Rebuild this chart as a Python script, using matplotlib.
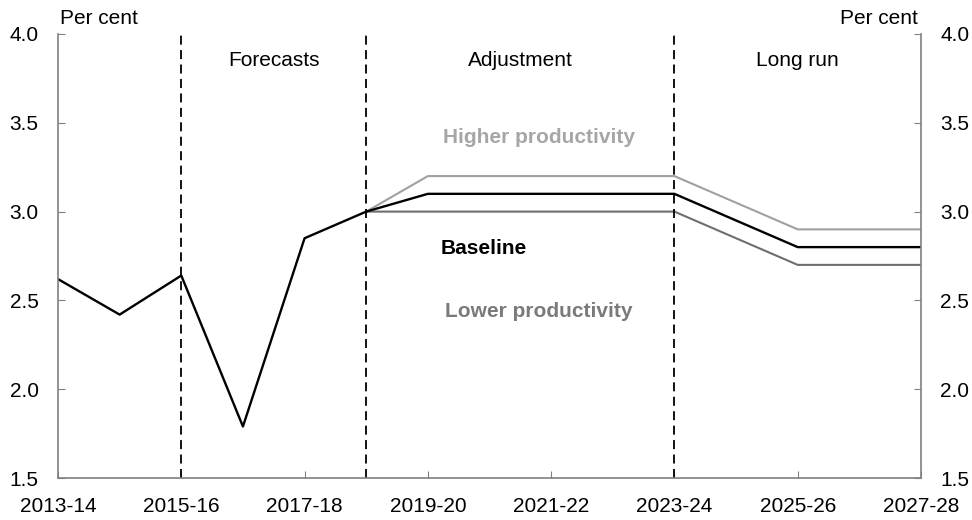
import numpy as np
import matplotlib.pyplot as plt

plt.rcParams['font.family'] = ['Liberation Sans', 'DejaVu Sans']

years = ['2013-14', '2014-15', '2015-16', '2016-17', '2017-18', '2018-19', '2019-20',
         '2020-21', '2021-22', '2022-23', '2023-24', '2024-25', '2025-26', '2026-27', '2027-28']
baseline = [2.62, 2.42, 2.64, 1.79, 2.85, 3.0, 3.1, 3.1, 3.1, 3.1, 3.1, 2.95, 2.8, 2.8, 2.8]
higher = [None, None, None, None, None, 3.0, 3.2, 3.2, 3.2, 3.2, 3.2, 3.05, 2.9, 2.9, 2.9]
lower = [None, None, None, None, None, 3.0, 3.0, 3.0, 3.0, 3.0, 3.0, 2.85, 2.7, 2.7, 2.7]
phase_breaks = ['2015-16', '2018-19', '2023-24']
phase_names = ['Forecasts', 'Adjustment', 'Long run']

x = np.arange(len(years))
hi = np.array([np.nan if v is None else v for v in higher])
lo = np.array([np.nan if v is None else v for v in lower])

FS = 15

fig = plt.figure(figsize=(9.72, 5.2), dpi=100)
ax = fig.add_axes([58 / 972, 1 - 478 / 520, 863 / 972, 444 / 520])

ax.plot(x, hi, color='#a0a0a0', lw=1.5)
ax.plot(x, lo, color='#6e6e6e', lw=1.5)
ax.plot(x, baseline, color='black', lw=1.7)

brk = [years.index(b) for b in phase_breaks]
for b in brk:
    ax.axvline(b, color='black', lw=1.3, ls=(0, (5, 3)))

edges = brk + [len(years) - 1]
for name, a, b in zip(phase_names, edges[:-1], edges[1:]):
    ax.text((a + b) / 2, 3.85, name, ha='center', va='center', fontsize=FS)

ax.text(7.8, 3.42, 'Higher productivity', color='#a6a6a6', fontsize=FS,
        fontweight='bold', ha='center', va='center')
ax.text(6.9, 2.795, 'Baseline', color='black', fontsize=FS,
        fontweight='bold', ha='center', va='center')
ax.text(7.8, 2.435, 'Lower productivity', color='#7a7a7a', fontsize=FS,
        fontweight='bold', ha='center', va='center')

ax.set_xlim(0, len(years) - 1)
ax.set_ylim(1.5, 4.0)
ax.set_xticks(x[::2])
ax.set_xticklabels(years[::2], fontsize=FS)
ax.set_yticks(np.arange(1.5, 4.01, 0.5))
ax.set_yticklabels([f'{v:.1f}' for v in np.arange(1.5, 4.01, 0.5)], fontsize=FS)
ax.tick_params(axis='both', direction='in', length=5, color='#808080',
               left=True, right=True, labelleft=True, labelright=True)
ax.tick_params(axis='x', pad=14)
ax.tick_params(axis='y', pad=14)

ax.spines['top'].set_visible(False)
for side in ['left', 'right', 'bottom']:
    ax.spines[side].set_color('#808080')
    ax.spines[side].set_linewidth(1.2)

fig.text(60 / 972, 1 - 18 / 520, 'Per cent', ha='left', va='center', fontsize=FS)
fig.text(918 / 972, 1 - 18 / 520, 'Per cent', ha='right', va='center', fontsize=FS)

fig.savefig('out.png', dpi=100)
